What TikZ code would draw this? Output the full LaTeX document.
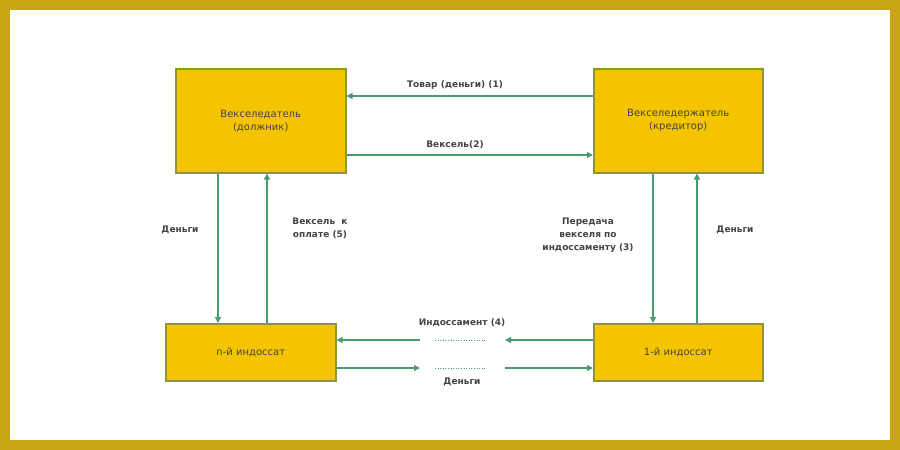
\documentclass[tikz,border=0pt]{standalone}
\usepackage{fontspec}
\setmainfont{DejaVu Sans}
\usetikzlibrary{arrows.meta}
\definecolor{gold}{HTML}{F5C400}
\definecolor{olive}{HTML}{8C9A2C}
\definecolor{frame}{HTML}{C9A414}
\definecolor{arr}{HTML}{4C9A72}
\definecolor{txt}{HTML}{444444}
\tikzset{
  party/.style={draw=olive, line width=1.5pt, fill=gold, text=txt, font=\fontsize{10}{13}\selectfont, align=center, anchor=north west, inner sep=0pt},
  flow/.style={draw=arr, line width=1.3pt, -{Triangle[length=6pt,width=6pt]}},
  tag/.style={text=txt, font=\bfseries\fontsize{9}{13}\selectfont, align=center},
  gap/.style={draw=arr, dotted, line width=0.6pt}
}
\begin{document}
\begin{tikzpicture}[x=1pt,y=-1pt]
  \fill[frame] (0,0) rectangle (900,450);
  \fill[white] (10,10) rectangle (890,440);
  \useasboundingbox (0,0) rectangle (900,450);
  % boxes
  \node[party, minimum width=170pt, minimum height=104pt] (drawer) at (175,68) {Векселедатель\\(должник)};
  \node[party, minimum width=169pt, minimum height=104pt] (holder) at (593,68) {Векселедержатель\\(кредитор)};
  \node[party, minimum width=170pt, minimum height=57pt] (nth) at (165,323) {n-й индоссат};
  \node[party, minimum width=169pt, minimum height=57pt] (first) at (593,323) {1-й индоссат};
  % columns and rows
  \coordinate (c1) at (218,0);
  \coordinate (c2) at (267,0);
  \coordinate (c3) at (653,0);
  \coordinate (c4) at (697,0);
  \coordinate (r1) at (0,96);
  \coordinate (r2) at (0,155);
  \coordinate (r3) at (0,340);
  \coordinate (r4) at (0,368);
  \coordinate (m1) at (420,0);
  \coordinate (m2) at (505,0);
  % top
  \draw[flow] (holder.west |- r1) -- (drawer.east |- r1);
  \draw[flow] (drawer.east |- r2) -- (holder.west |- r2);
  % sides
  \draw[flow] (drawer.south -| c1) -- (nth.north -| c1);
  \draw[flow] (nth.north -| c2) -- (drawer.south -| c2);
  \draw[flow] (holder.south -| c3) -- (first.north -| c3);
  \draw[flow] (first.north -| c4) -- (holder.south -| c4);
  % bottom
  \draw[flow] (first.west |- r3) -- (m2 |- r3);
  \draw[flow] (m1 |- r3) -- (nth.east |- r3);
  \draw[flow] (nth.east |- r4) -- (m1 |- r4);
  \draw[flow] (m2 |- r4) -- (first.west |- r4);
  \draw[gap] (435,340) -- (485,340);
  \draw[gap] (435,368) -- (485,368);
  % labels
  \node[tag] (l1) at (455,85) {Товар (деньги) (1)};
  \node[tag] (l2) at (455,145) {Вексель(2)};
  \node[tag] (l3) at (180,230) {Деньги};
  \node[tag] (l4) at (320,228) {Вексель\ \ к\\оплате (5)};
  \node[tag] (l5) at (588,235) {Передача\\векселя по\\индоссаменту (3)};
  \node[tag] (l6) at (735,230) {Деньги};
  \node[tag] (l7) at (462,323) {Индоссамент (4)};
  \node[tag] (l8) at (462,382) {Деньги};
\end{tikzpicture}
\end{document}
